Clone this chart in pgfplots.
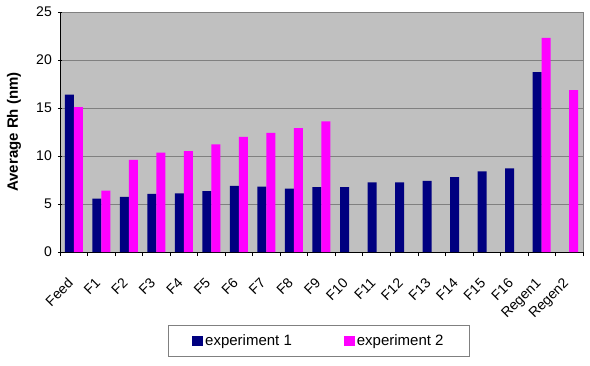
\documentclass[border=0pt]{standalone}
\usepackage{fontspec}
\setmainfont{Liberation Sans}
\usepackage{pgfplots}
\pgfplotsset{compat=1.18}
\definecolor{exone}{RGB}{0,0,128}
\definecolor{extwo}{RGB}{255,0,255}
\definecolor{plotbg}{RGB}{192,192,192}
\definecolor{gridc}{RGB}{128,128,128}
\begin{document}
\begin{tikzpicture}
\begin{axis}[
  name=ax,
  scale only axis,
  width=523pt, height=240pt,
  xmin=-0.5, xmax=18.5,
  ymin=0, ymax=25,
  ytick={0,5,10,15,20,25},
  xtick={0,...,18},
  xticklabels={Feed,F1,F2,F3,F4,F5,F6,F7,F8,F9,F10,F11,F12,F13,F14,F15,F16,Regen1,Regen2},
  minor xtick={-0.5,0.5,...,18.5},
  every major x tick/.append style={draw opacity=0},
  major tick length=4pt,
  minor tick length=4pt,
  tick align=outside,
  tick style={black, line width=0.6pt},
  axis lines=left,
  axis line style={-, black, line width=0.8pt},
  every outer x axis line/.style={},
  every outer y axis line/.style={},
  axis background/.style={fill=plotbg, draw=gridc, line width=0.8pt},
  ymajorgrids,
  grid style={gridc, line width=0.9pt},
  /pgf/number format/assume math mode=true,
  yticklabel style={font=\fontsize{14}{16}\selectfont, inner sep=0pt, xshift=-6pt},
  xticklabel style={font=\fontsize{14}{16}\selectfont, inner sep=0pt, xshift=-7pt, yshift=-21pt, rotate=45, anchor=north east},
  ylabel={Average Rh (nm)},
  ylabel style={font=\bfseries\fontsize{15}{17}\selectfont, at={(axis description cs:-0.088,0.5)}, anchor=center},
  ybar=0pt,
  bar width=9pt,
  legend columns=2,
  legend style={at={(axis description cs:0.495,-0.371)}, anchor=center,
    draw=gridc, line width=0.8pt, fill=white,
    font=\fontsize{15}{17}\selectfont,
    inner xsep=24pt, inner ysep=7pt,
    /tikz/every even column/.append style={column sep=50pt}},
  legend image code/.code={\fill[#1] (0pt,-5pt) rectangle (11pt,5.5pt);},
]
\addplot[fill=exone, draw=none] coordinates {
 (0,16.4) (1,5.55) (2,5.75) (3,6.05) (4,6.1) (5,6.35) (6,6.9) (7,6.8) (8,6.6)
 (9,6.75) (10,6.75) (11,7.25) (12,7.25) (13,7.4) (14,7.8) (15,8.4) (16,8.7) (17,18.75)};
\addplot[fill=extwo, draw=none] coordinates {
 (0,15.1) (1,6.4) (2,9.6) (3,10.35) (4,10.5) (5,11.2) (6,12.0) (7,12.4) (8,12.9)
 (9,13.6) (17,22.3) (18,16.85)};
\legend{experiment 1, experiment 2}
\end{axis}
\path (ax.south west) ++(-60pt,-113pt) rectangle ++(590pt,365pt);
\end{tikzpicture}
\end{document}
